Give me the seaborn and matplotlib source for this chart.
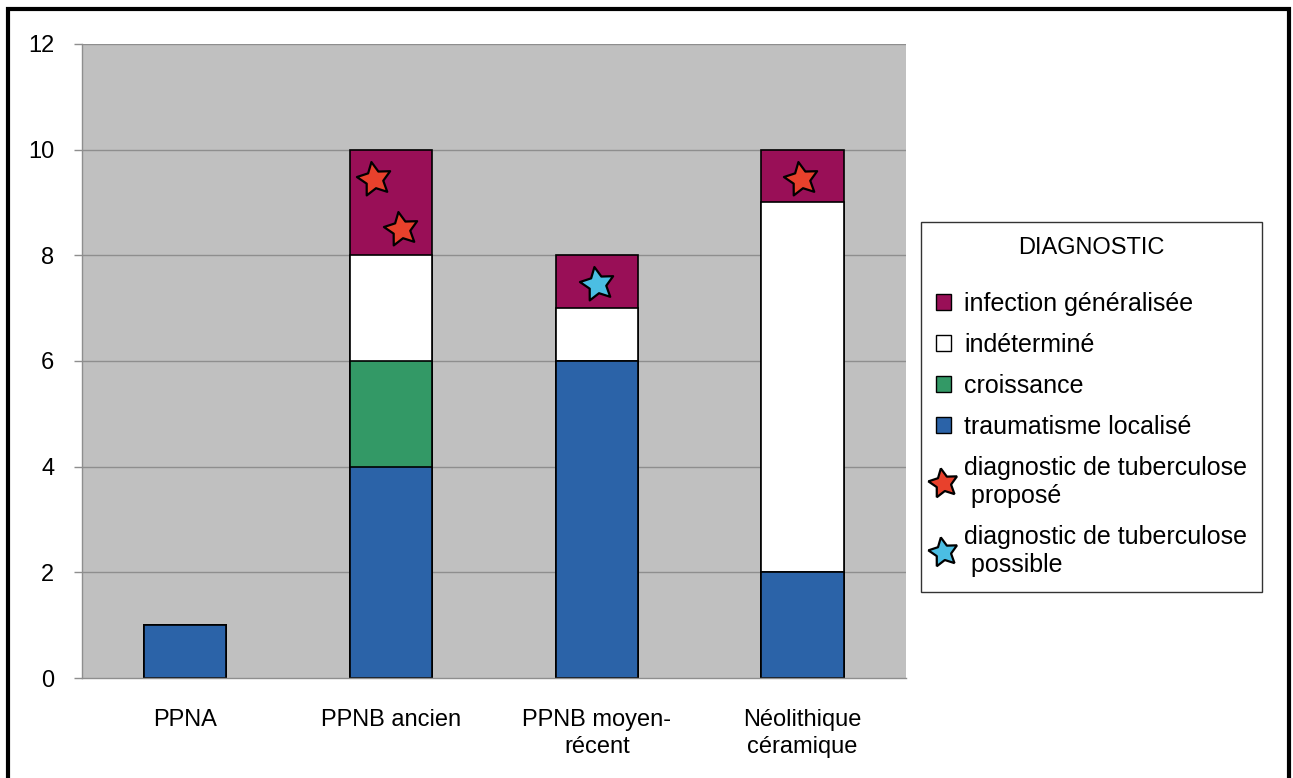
import matplotlib
matplotlib.use("Agg")
import matplotlib.pyplot as plt
import seaborn as sns
import pandas as pd
import numpy as np
from matplotlib.patches import Patch, Rectangle
from matplotlib.lines import Line2D

periods = ["PPNA", "PPNB ancien", "PPNB moyen-\nrécent", "Néolithique\ncéramique"]
traumatisme = [1, 4, 6, 2]
croissance = [0, 2, 0, 0]
indetermine = [0, 2, 1, 7]
infection = [0, 2, 1, 1]

series_names = ["infection généralisée", "indéterminé", "croissance", "traumatisme localisé"]
series_colors = ["#990F57", "#FFFFFF", "#339966", "#2B63A8"]

# star annotations: category index, offset within category, y value
star_prop_cat = [1, 1, 3]
star_prop_dx = [-0.08, 0.05, -0.01]
star_prop_y = [9.45, 8.5, 9.45]
star_poss_cat = [2]
star_poss_dx = [0.0]
star_poss_y = [7.45]

yticks = [0, 2, 4, 6, 8, 10, 12]

sns.set_theme(style="white")
plt.rcParams["font.family"] = ["Liberation Sans", "DejaVu Sans"]
plt.rcParams["text.color"] = "black"
plt.rcParams["xtick.color"] = "black"
plt.rcParams["ytick.color"] = "black"

fig = plt.figure(figsize=(12.93, 7.78), dpi=100)
ax = fig.add_axes([0.0634, 0.1285, 0.637, 0.815])
ax.set_facecolor("#C0C0C0")

layers_bottom_up = [traumatisme, croissance, indetermine, infection]
cum = np.cumsum(np.array(layers_bottom_up), axis=0)
colors_bottom_up = series_colors[::-1]
for i in range(len(layers_bottom_up) - 1, -1, -1):
    df = pd.DataFrame({"period": periods, "value": cum[i]})
    sns.barplot(data=df, x="period", y="value", color=colors_bottom_up[i],
                saturation=1, width=0.4, edgecolor="black", linewidth=1.2,
                ax=ax, order=periods, zorder=2)

for y in yticks[1:]:
    ax.axhline(y, color="#8E8E8E", lw=1, zorder=1)

star_red = "#E8412C"
star_blue = "#4BBEE3"
ax.scatter(np.array(star_prop_cat) + np.array(star_prop_dx), star_prop_y,
           marker=(5, 1, 10), s=650, c=star_red, edgecolors="black", linewidths=1.6, zorder=5)
ax.scatter(np.array(star_poss_cat) + np.array(star_poss_dx), star_poss_y,
           marker=(5, 1, 10), s=650, c=star_blue, edgecolors="black", linewidths=1.6, zorder=5)

ax.set_xlim(-0.5, 3.5)
ax.set_ylim(0, 12)
ax.set_yticks(yticks)
ax.set_yticklabels([str(v) for v in yticks], fontsize=17)
ax.set_xticks(range(len(periods)))
ax.set_xticklabels(periods, fontsize=17, linespacing=1.3)
ax.set_xticks(np.arange(-0.5, 4.0, 1.0), minor=True)
ax.tick_params(axis="x", which="major", length=0, pad=22)
ax.tick_params(axis="x", which="minor", length=6, color="#8E8E8E", width=1, direction="out")
ax.tick_params(axis="y", which="major", length=6, color="#8E8E8E", width=1, direction="out", pad=14, left=True)
ax.set_xlabel("")
ax.set_ylabel("")
for s in ["top", "right"]:
    ax.spines[s].set_visible(False)
for s in ["left", "bottom"]:
    ax.spines[s].set_color("#8E8E8E")
    ax.spines[s].set_linewidth(1)

handles = [Patch(facecolor=c, edgecolor="black", linewidth=1) for c in series_colors]
handles += [
    Line2D([], [], marker=(5, 1, 10), markersize=22, color="none",
           markerfacecolor=star_red, markeredgecolor="black", markeredgewidth=1.6),
    Line2D([], [], marker=(5, 1, 10), markersize=22, color="none",
           markerfacecolor=star_blue, markeredgecolor="black", markeredgewidth=1.6),
]
labels = series_names + ["diagnostic de tuberculose\n proposé", "diagnostic de tuberculose\n possible"]
leg = fig.legend(handles, labels, title="DIAGNOSTIC", loc="upper left",
                 bbox_to_anchor=(0.712, 0.715), fontsize=18, title_fontsize=17,
                 frameon=True, fancybox=False, handlelength=0.6, handleheight=0.6,
                 handletextpad=0.55, labelspacing=0.68, borderpad=0.6, borderaxespad=0)
leg.get_frame().set_edgecolor("black")
leg.get_frame().set_linewidth(1)
leg._legend_box.align = "center"
leg._legend_box.sep = 24

fig.patches.append(Rectangle((0.006, -0.01), 0.991, 0.998, transform=fig.transFigure,
                             fill=False, edgecolor="black", linewidth=3))

fig.savefig("out.png", dpi=100, facecolor="white")
